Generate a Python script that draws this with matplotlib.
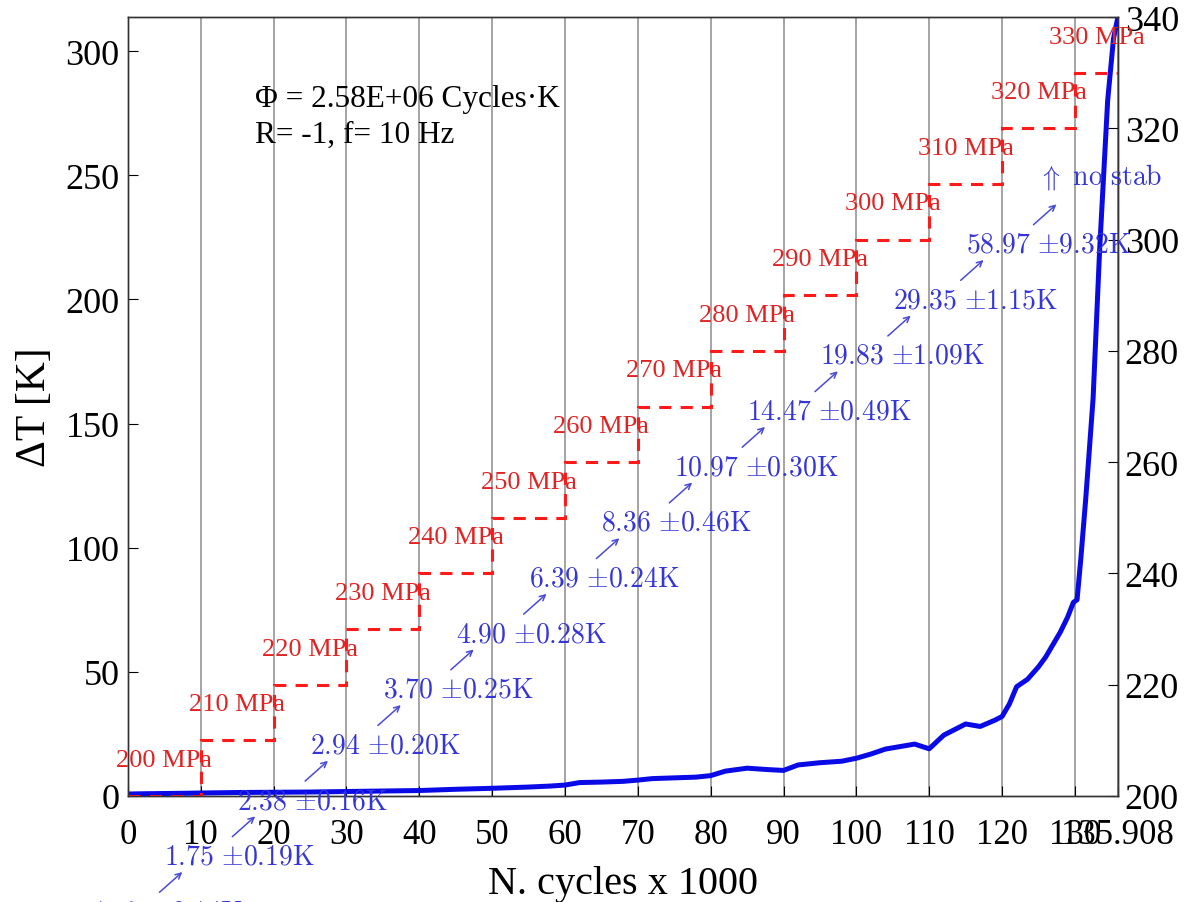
import matplotlib
matplotlib.use("Agg")
import matplotlib.pyplot as plt
from matplotlib.transforms import offset_copy
import numpy as np

plt.rcParams['font.family'] = ['Liberation Serif', 'DejaVu Serif']
plt.rcParams['mathtext.fontset'] = 'cm'

# temperature rise curve (cycles x 1000, delta T in K)
cycles = [0, 2, 5, 8, 10, 15, 20, 25, 30, 35, 40, 45, 50, 55, 58, 60, 62, 65, 68, 70,
          72, 75, 78, 80, 82, 85, 88, 90, 92, 95, 98, 100, 102, 104, 106, 108, 110,
          112, 114, 115, 117, 119, 120, 121, 122, 123.5, 125, 126, 127, 128, 129,
          129.8, 130.3, 130.8, 131.5, 132.5, 133.4, 134.5, 135.3, 135.908]
dT = [0.8, 0.9, 1.0, 1.1, 1.2, 1.4, 1.5, 1.6, 1.8, 2.0, 2.2, 2.7, 3.1, 3.6, 4.0, 4.4,
      5.4, 5.6, 5.9, 6.4, 7.0, 7.3, 7.6, 8.2, 10.0, 11.2, 10.6, 10.3, 12.5, 13.4, 14.0,
      15.2, 16.9, 18.9, 19.9, 20.9, 19.0, 24.5, 27.5, 29.0, 28.0, 30.5, 32.0, 37.0,
      44.0, 47.0, 52.0, 56.0, 61.0, 66.0, 72.0, 78.0, 79.0, 95.0, 120.0, 160.0,
      220.0, 280.0, 305.0, 313.7]

# stress blocks (MPa)
block_edges = [0, 10, 20, 30, 40, 50, 60, 70, 80, 90, 100, 110, 120, 130, 135.908]
stress = [200, 210, 220, 230, 240, 250, 260, 270, 280, 290, 300, 310, 320, 330]

# stabilized temperature labels, one per block starting one block before the first
dT_labels = ["1.57 ±0.14K", "1.75 ±0.19K", "2.38 ±0.16K", "2.94 ±0.20K", "3.70 ±0.25K",
             "4.90 ±0.28K", "6.39 ±0.24K", "8.36 ±0.46K", "10.97 ±0.30K",
             "14.47 ±0.49K", "19.83 ±1.09K", "29.35 ±1.15K", "58.97 ±9.32K", "no stab"]

xticks = [0, 10, 20, 30, 40, 50, 60, 70, 80, 90, 100, 110, 120, 130, 135.908]
xticklabels = ['0', '10', '20', '30', '40', '50', '60', '70', '80', '90', '100',
               '110', '120', '130', '135.908']

fig = plt.figure(figsize=(11.88, 9.03), dpi=100)
ax = fig.add_axes([0.1077, 0.1174, 0.8333, 0.8626])

for xt in xticks:
    ax.axvline(xt, color='#8c8c8c', lw=1.1, zorder=0)

ax.plot(cycles, dT, color='#0a0ae6', lw=3.6, zorder=3)
ax.set_xlim(0, 135.908)
ax.set_ylim(0, max(dT))
ax.set_xticks(xticks)
ax.set_xticklabels(xticklabels)
ax.set_yticks([0, 50, 100, 150, 200, 250, 300])
ax.tick_params(axis='x', direction='in', labelsize=25, length=7, pad=16)
ax.tick_params(axis='y', direction='in', labelsize=26, length=7, pad=6)
ax.set_xlabel('N. cycles x 1000', fontsize=29, labelpad=10)
ax.set_ylabel('ΔT [K]', fontsize=30, labelpad=8)

ax2 = ax.twinx()
ax2.set_ylim(200, 340)
ax2.set_yticks([200, 220, 240, 260, 280, 300, 320, 340])
ax2.tick_params(axis='y', direction='in', labelsize=26, length=7, pad=5)
ax2.stairs(stress, block_edges, baseline=None, color='#ff1a1a', lw=2.2,
           linestyle=(0, (4, 3)), zorder=2)

for sp in list(ax.spines.values()) + list(ax2.spines.values()):
    sp.set_color('#333333')
    sp.set_linewidth(1.0)

mids = [(block_edges[i] + block_edges[i + 1]) / 2 for i in range(len(stress))]
for m, s in zip(mids, stress):
    ax2.text(m, s + 6.5, f'{s} MPa', color='#e02424', fontsize=19,
             ha='center', va='center', clip_on=False)

lab_x = [mids[0] - 10] + mids[:-1]
lab_y = [stress[0] - 10] + stress[:-1]
for lx, ly, lab in zip(lab_x, lab_y, dT_labels):
    yy = ly - 11
    if lab == "no stab":
        txt = r'$\Uparrow\ \mathrm{no\ stab}$'
        ty = yy + 2.5
    else:
        val, err = lab.split(' ±')
        txt = r'$\mathrm{' + val + r'}\ {\pm}\mathrm{' + err + '}$'
        ty = yy
    ax2.text(lx, ty, txt, color='#3535d8', fontsize=20, ha='left',
             va='center', clip_on=False)
    tail = offset_copy(ax2.transData, fig=fig, x=-7, y=-37, units='dots')
    head = offset_copy(ax2.transData, fig=fig, x=20, y=-13, units='dots')
    ax2.annotate('', xy=(lx, yy), xycoords=head, xytext=(lx, yy),
                 textcoords=tail, annotation_clip=False,
                 arrowprops=dict(arrowstyle='->', color='#4a4ad8', lw=1.1))

ax.text(0.128, 0.895, 'Φ = 2.58E+06 Cycles·K', transform=ax.transAxes,
        fontsize=22.5, va='center', ha='left')
ax.text(0.128, 0.850, 'R= -1, f= 10 Hz', transform=ax.transAxes,
        fontsize=22.5, va='center', ha='left')

fig.savefig('out.png', dpi=100)
